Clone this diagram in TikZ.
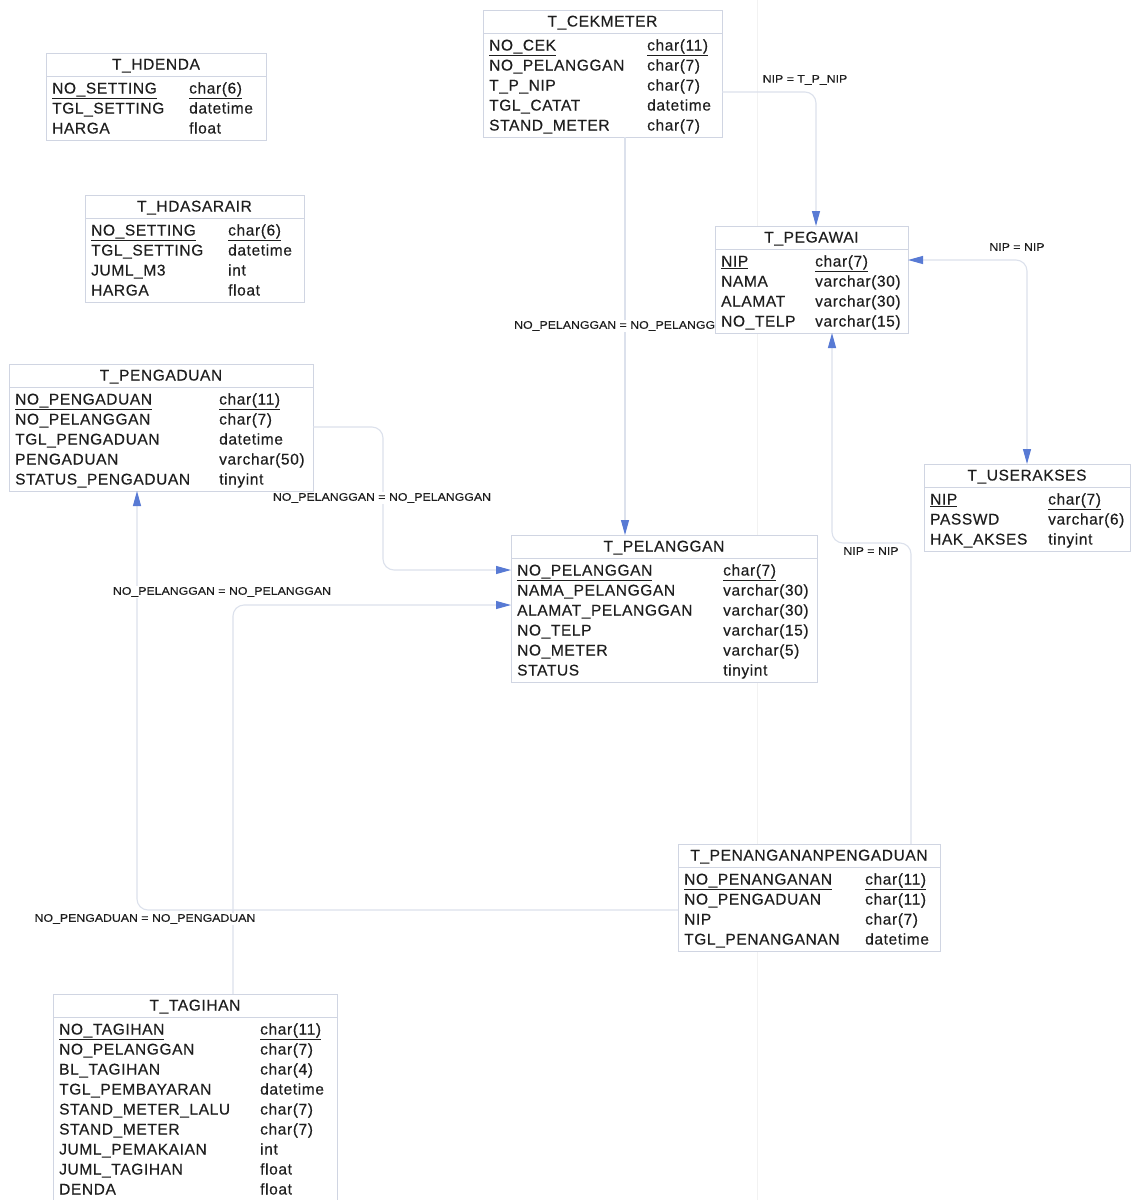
\documentclass[tikz,border=0pt]{standalone}
\usepackage{fontspec}
\setmainfont{Liberation Sans}[LetterSpace=4,FakeBold=0.35]
\newfontfamily\lblfont{Liberation Sans}[FakeStretch=1.12,FakeBold=0.2]
\usetikzlibrary{arrows.meta}
\definecolor{boxc}{RGB}{208,213,226}
\definecolor{connc}{RGB}{220,225,236}
\definecolor{arrc}{RGB}{88,122,212}
\definecolor{txtc}{RGB}{30,30,30}
\tikzset{
 tblbox/.style={draw=boxc, fill=white, line width=0.9pt, inner sep=0pt, outer sep=0pt},
 tbltitle/.style={anchor=base, inner sep=0pt, text=txtc, font=\fontsize{15.5}{18}\selectfont},
 tbltext/.style={anchor=base west, inner sep=0pt, text=txtc, font=\fontsize{15.5}{18}\selectfont},
 sepline/.style={draw=boxc, line width=0.9pt},
 conn/.style={draw=connc, line width=1.1pt, rounded corners=11pt},
 arrowend/.style={-{Triangle[length=15pt,width=8pt,color=arrc]}},
 arrowboth/.style={{Triangle[length=15pt,width=8pt,color=arrc]}-{Triangle[length=15pt,width=8pt,color=arrc]}},
 rel/.style={fill=white, inner sep=1.5pt, text=txtc, font=\lblfont\fontsize{11}{13}\selectfont},
 scanline/.style={draw=black!5, line width=1pt}
}
\newcommand\ertable[7]{%
  \node[tblbox, anchor=north west, minimum width={(#4-#2)*1pt}, minimum height={(27+20*#5)*1pt}] (#1) at (#2,#3) {};
  \node[tbltitle] (#1-title) at ({(#2+#4)/2},{#3+16.5}) {#6};
  \draw[sepline] ({#2},{#3+23}) -- ({#4},{#3+23});
  \def\tabid{#1}\def\tabL{#2}\def\tabT{#3}\def\tabC{#7}%
}
\newcommand\erow[3]{%
  \coordinate (\tabid-r#1) at ({\tabL},{\tabT+35+20*(#1-1)});
  \node[tbltext] (\tabid-n#1) at ({\tabL+6},{\tabT+40.5+20*(#1-1)}) {#2};
  \node[tbltext] (\tabid-t#1) at ({\tabC},{\tabT+40.5+20*(#1-1)}) {#3};
}
\begin{document}
\begin{tikzpicture}[x=1pt,y=-1pt]
\useasboundingbox (0,0) rectangle (1131,1200);
\fill[white] (0,0) rectangle (1131,1200);
\coordinate (s1) at (757,0); \coordinate (s2) at (757,1200);
\draw[scanline] (s1) -- (s2);

\ertable{hdenda}{46}{53}{266}{3}{T\_HDENDA}{189}
\erow{1}{\underline{NO\_SETTING}}{\underline{char(6)}}
\erow{2}{TGL\_SETTING}{datetime}
\erow{3}{HARGA}{float}

\ertable{hdasar}{85}{195}{304}{4}{T\_HDASARAIR}{228}
\erow{1}{\underline{NO\_SETTING}}{\underline{char(6)}}
\erow{2}{TGL\_SETTING}{datetime}
\erow{3}{JUML\_M3}{int}
\erow{4}{HARGA}{float}

\ertable{cek}{483}{10}{722}{5}{T\_CEKMETER}{647}
\erow{1}{\underline{NO\_CEK}}{\underline{char(11)}}
\erow{2}{NO\_PELANGGAN}{char(7)}
\erow{3}{T\_P\_NIP}{char(7)}
\erow{4}{TGL\_CATAT}{datetime}
\erow{5}{STAND\_METER}{char(7)}

\ertable{peg}{715}{226}{908}{4}{T\_PEGAWAI}{815}
\erow{1}{\underline{NIP}}{\underline{char(7)}}
\erow{2}{NAMA}{varchar(30)}
\erow{3}{ALAMAT}{varchar(30)}
\erow{4}{NO\_TELP}{varchar(15)}

\ertable{usr}{924}{464}{1130}{3}{T\_USERAKSES}{1048}
\erow{1}{\underline{NIP}}{\underline{char(7)}}
\erow{2}{PASSWD}{varchar(6)}
\erow{3}{HAK\_AKSES}{tinyint}

\ertable{pgd}{9}{364}{313}{5}{T\_PENGADUAN}{219}
\erow{1}{\underline{NO\_PENGADUAN}}{\underline{char(11)}}
\erow{2}{NO\_PELANGGAN}{char(7)}
\erow{3}{TGL\_PENGADUAN}{datetime}
\erow{4}{PENGADUAN}{varchar(50)}
\erow{5}{STATUS\_PENGADUAN}{tinyint}

\ertable{pel}{511}{535}{817}{6}{T\_PELANGGAN}{723}
\erow{1}{\underline{NO\_PELANGGAN}}{\underline{char(7)}}
\erow{2}{NAMA\_PELANGGAN}{varchar(30)}
\erow{3}{ALAMAT\_PELANGGAN}{varchar(30)}
\erow{4}{NO\_TELP}{varchar(15)}
\erow{5}{NO\_METER}{varchar(5)}
\erow{6}{STATUS}{tinyint}

\ertable{ppg}{678}{844}{940}{4}{T\_PENANGANANPENGADUAN}{865}
\erow{1}{\underline{NO\_PENANGANAN}}{\underline{char(11)}}
\erow{2}{NO\_PENGADUAN}{char(11)}
\erow{3}{NIP}{char(7)}
\erow{4}{TGL\_PENANGANAN}{datetime}

\ertable{tag}{53}{994}{337}{9}{T\_TAGIHAN}{260}
\erow{1}{\underline{NO\_TAGIHAN}}{\underline{char(11)}}
\erow{2}{NO\_PELANGGAN}{char(7)}
\erow{3}{BL\_TAGIHAN}{char(4)}
\erow{4}{TGL\_PEMBAYARAN}{datetime}
\erow{5}{STAND\_METER\_LALU}{char(7)}
\erow{6}{STAND\_METER}{char(7)}
\erow{7}{JUML\_PEMAKAIAN}{int}
\erow{8}{JUML\_TAGIHAN}{float}
\erow{9}{DENDA}{float}

% connector bend points
\coordinate (c1) at (816,92);
\coordinate (c2) at (625,0);
\coordinate (c3) at (1027,260);
\coordinate (c4a) at (911,543);
\coordinate (c4b) at (832,543);
\coordinate (c5a) at (383,427);
\coordinate (c5b) at (383,570);
\coordinate (c6) at (233,605);
\coordinate (c7) at (137,910);

\draw[conn, arrowend] (cek.east |- c1) -| (peg.north -| c1);
\draw[conn, arrowend] (cek.south -| c2) -- (pel.north -| c2);
\draw[conn, arrowboth] (usr.north -| c3) |- (peg.east |- c3);
\draw[conn, arrowend] (ppg.north -| c4a) -- (c4a) -- (c4b) -- (peg.south -| c4b);
\draw[conn, arrowend] (pgd.east |- c5a) -- (c5a) -- (c5b) -- (pel.west |- c5b);
\draw[conn, arrowend] (tag.north -| c6) |- (pel.west |- c6);
\draw[conn, arrowend] (ppg.west |- c7) -| (pgd.south -| c7);

% relation labels
\node[rel] (l1) at (805,80) {NIP = T\_P\_NIP};
\begin{scope}
\clip (0,0) rectangle (714.4,1200);
\node[rel, anchor=west] (l2) at (512.5,326) {NO\_PELANGGAN = NO\_PELANGGAN};
\end{scope}
\node[rel] (l3) at (1017,247) {NIP = NIP};
\node[rel] (l4) at (871,551) {NIP = NIP};
\node[rel] (l5) at (382,498) {NO\_PELANGGAN = NO\_PELANGGAN};
\node[rel] (l6) at (222,592) {NO\_PELANGGAN = NO\_PELANGGAN};
\node[rel] (l7) at (145,919) {NO\_PENGADUAN = NO\_PENGADUAN};
\end{tikzpicture}
\end{document}
